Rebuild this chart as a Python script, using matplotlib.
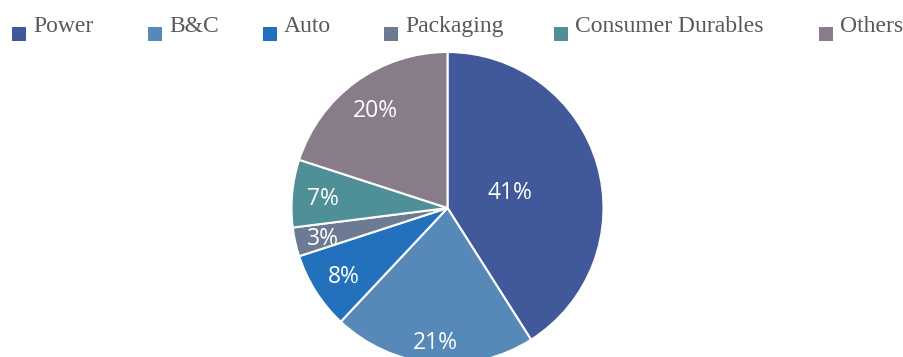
import matplotlib.pyplot as plt
import numpy as np
from matplotlib.patches import Rectangle

segments = ['Power', 'B&C', 'Auto', 'Packaging', 'Consumer Durables', 'Others']
shares = [41, 21, 8, 3, 7, 20]
colors = ['#41589A', '#5689B7', '#2371BD', '#6C7A93', '#4F8F98', '#887C8A']

W, H = 904, 357
fig = plt.figure(figsize=(W / 100, H / 100), dpi=100)
ax = fig.add_axes([0, 0, 1, 1])

cx, cy, r = 447.5, H - 208, 156
wedges, _ = ax.pie(shares, colors=colors, startangle=90, counterclock=False,
                   radius=r, center=(cx, cy), frame=True,
                   wedgeprops=dict(edgecolor='white', linewidth=1.5))
ax.set_xlim(0, W)
ax.set_ylim(0, H)
ax.set_aspect('equal')
ax.axis('off')

# label distance as a fraction of the radius, per slice
label_dist = [0.42, 0.85, 0.79, 0.82, 0.80, 0.79]
for w, v, d in zip(wedges, shares, label_dist):
    ang = np.deg2rad((w.theta1 + w.theta2) / 2)
    ax.text(cx + d * r * np.cos(ang), cy + d * r * np.sin(ang), f'{v}%',
            ha='center', va='center_baseline', color='white', fontsize=16.5,
            family='Open Sans')

# legend row across the top
legend_x = [12, 148, 263, 384, 554, 819]
for x, name, c in zip(legend_x, segments, colors):
    ax.add_patch(Rectangle((x, H - 41), 14, 14, facecolor=c, edgecolor='none'))
    ax.text(x + 21, H - 32, name, ha='left', va='baseline', color='#595959',
            fontsize=17, family='Liberation Serif')

fig.savefig('out.png', dpi=100)
